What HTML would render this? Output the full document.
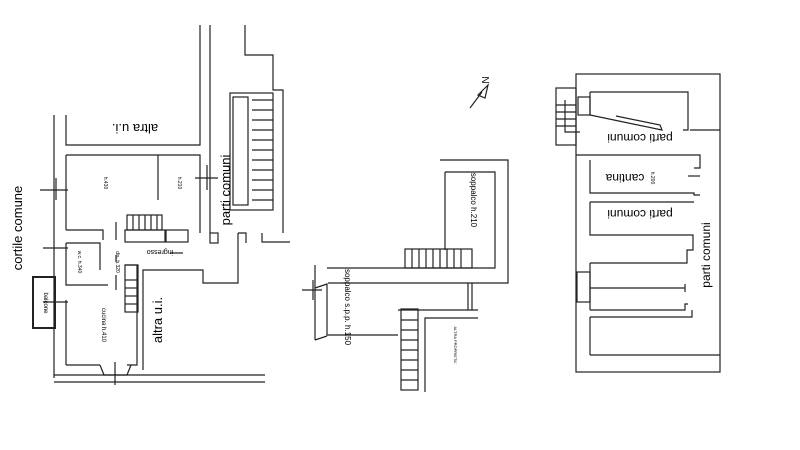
<!DOCTYPE html>
<html><head><style>
html,body{margin:0;padding:0;background:#fff;width:800px;height:450px;overflow:hidden}
svg{display:block}
text{font-family:"Liberation Sans",sans-serif;fill:#000}
</style></head><body>
<svg width="800" height="450" viewBox="0 0 800 450" xmlns="http://www.w3.org/2000/svg">
<g stroke="#222" stroke-width="1.2" fill="none">
<!-- LEFT PLAN -->
<polyline points="200,25 200,145 66,145 66,115"/>
<line x1="210" y1="25" x2="210" y2="233"/>
<line x1="54" y1="115" x2="54" y2="378"/>
<polyline points="66,155 200,155 200,233"/>
<line x1="66" y1="155" x2="66" y2="230"/>
<polyline points="66,230 103,230 103,240"/>
<line x1="158" y1="155" x2="158" y2="200"/>
<rect x="127" y="215" width="35" height="15"/>
<line x1="133" y1="215" x2="133" y2="230"/><line x1="139" y1="215" x2="139" y2="230"/><line x1="145" y1="215" x2="145" y2="230"/><line x1="151" y1="215" x2="151" y2="230"/><line x1="157" y1="215" x2="157" y2="230"/>
<rect x="125" y="230" width="40" height="12"/>
<rect x="166" y="230" width="22" height="12"/>
<rect x="210" y="233" width="8" height="10"/>
<line x1="116" y1="222" x2="116" y2="240"/>
<line x1="116" y1="255" x2="116" y2="262"/>
<polyline points="66,243 100,243 100,270"/>
<polyline points="66,243 66,285 108,285"/>
<line x1="116" y1="275" x2="116" y2="290"/>
<rect x="33" y="277" width="22" height="51" stroke-width="2"/>
<line x1="66" y1="300" x2="66" y2="365"/>
<polyline points="66,365 100,365"/><polyline points="127,365 137,365 137,265 125,265"/>
<polyline points="100,365 104,375 127,375 131,365"/>
<line x1="54" y1="375" x2="265" y2="375"/>
<line x1="54" y1="382" x2="265" y2="382"/>
<polyline points="143,370 143,270 203,270 203,283 238,283 238,233"/>
<polyline points="238,233 246,233 246,243"/>
<rect x="125" y="265" width="13" height="47"/>
<line x1="125" y1="280" x2="138" y2="280"/><line x1="125" y1="288" x2="138" y2="288"/><line x1="125" y1="296" x2="138" y2="296"/><line x1="125" y1="304" x2="138" y2="304"/>
<polyline points="245,25 245,55 273,55 273,90 283,90 283,233"/>
<rect x="230" y="93" width="43" height="117"/>
<rect x="233" y="97" width="15" height="108"/>
<line x1="252" y1="100" x2="273" y2="100"/><line x1="252" y1="110" x2="273" y2="110"/><line x1="252" y1="120" x2="273" y2="120"/><line x1="252" y1="130" x2="273" y2="130"/><line x1="252" y1="140" x2="273" y2="140"/><line x1="252" y1="150" x2="273" y2="150"/><line x1="252" y1="160" x2="273" y2="160"/><line x1="252" y1="170" x2="273" y2="170"/><line x1="252" y1="180" x2="273" y2="180"/><line x1="252" y1="190" x2="273" y2="190"/><line x1="252" y1="200" x2="273" y2="200"/>
<polyline points="262,233 262,242 290,242"/>
<line x1="40" y1="190" x2="68" y2="190"/><line x1="56" y1="178" x2="56" y2="200"/>
<line x1="195" y1="178" x2="218" y2="178"/><line x1="207" y1="165" x2="207" y2="190"/>
<line x1="43" y1="248" x2="68" y2="248"/>
<line x1="43" y1="302" x2="68" y2="302"/>
<line x1="115" y1="362" x2="115" y2="385"/>
<line x1="170" y1="253" x2="183" y2="253"/>
<!-- MIDDLE PLAN -->
<polyline points="440,160 508,160 508,283 328,283"/>
<polyline points="445,172 495,172 495,268 327,268"/>
<line x1="445" y1="172" x2="445" y2="250"/>
<rect x="405" y="249" width="67" height="19"/>
<line x1="412" y1="249" x2="412" y2="268"/><line x1="419" y1="249" x2="419" y2="268"/><line x1="426" y1="249" x2="426" y2="268"/><line x1="433" y1="249" x2="433" y2="268"/><line x1="440" y1="249" x2="440" y2="268"/><line x1="447" y1="249" x2="447" y2="268"/><line x1="454" y1="249" x2="454" y2="268"/><line x1="461" y1="249" x2="461" y2="268"/>
<line x1="315" y1="265" x2="315" y2="340"/>
<polyline points="315,288 327,284 327,335 398,335"/>
<line x1="315" y1="340" x2="327" y2="336"/>
<line x1="468" y1="283" x2="468" y2="310"/><line x1="472" y1="283" x2="472" y2="310"/>
<line x1="398" y1="310" x2="478" y2="310"/>
<rect x="401" y="309" width="17" height="81"/>
<line x1="401" y1="320" x2="418" y2="320"/><line x1="401" y1="330" x2="418" y2="330"/><line x1="401" y1="340" x2="418" y2="340"/><line x1="401" y1="350" x2="418" y2="350"/><line x1="401" y1="360" x2="418" y2="360"/><line x1="401" y1="370" x2="418" y2="370"/><line x1="401" y1="380" x2="418" y2="380"/>
<polyline points="425,392 425,318 478,318"/>
<line x1="302" y1="290" x2="322" y2="290"/><line x1="313" y1="280" x2="313" y2="300"/>
<line x1="470" y1="108" x2="482" y2="92"/>
<polygon points="478,95 488,85 485,98"/>
<!-- RIGHT PLAN -->
<rect x="576" y="74" width="144" height="298"/>
<rect x="556" y="88" width="20" height="57"/>
<line x1="556" y1="105" x2="576" y2="105"/><line x1="556" y1="112" x2="576" y2="112"/><line x1="556" y1="119" x2="576" y2="119"/><line x1="556" y1="126" x2="576" y2="126"/>
<polyline points="565,100 565,132 580,132"/>
<polyline points="590,92 688,92 688,130 683,130"/>
<polyline points="590,92 590,115 614,120 662,130 660,125 616,116"/>
<rect x="578" y="97" width="12" height="18"/>
<line x1="690" y1="130" x2="720" y2="130"/>
<polyline points="576,155 700,155 700,168 694,168"/>
<polyline points="590,160 590,193 694,193 694,195 700,195"/>
<polyline points="590,202 694,202"/>
<polyline points="590,202 590,235 693,235 693,250 687,250 687,263 590,263"/>
<line x1="590" y1="263" x2="590" y2="310"/>
<rect x="577" y="272" width="13" height="30"/>
<polyline points="590,288 685,288"/><line x1="685" y1="284" x2="685" y2="292"/>
<polyline points="590,310 685,310 685,304 688,304"/>
<polyline points="590,317 692,317 692,310"/>
<line x1="590" y1="317" x2="590" y2="355"/>
<line x1="590" y1="355" x2="720" y2="355"/>
<line x1="688" y1="176" x2="700" y2="176"/>
</g>
<g fill="#000">
<text x="22" y="228" font-size="13" transform="rotate(-90 22 228)" text-anchor="middle">cortile comune</text>
<text x="135" y="132" font-size="13" transform="rotate(180 135 128)" text-anchor="middle">altra u.i.</text>
<text x="230" y="190" font-size="13" transform="rotate(-90 230 190)" text-anchor="middle">parti comuni</text>
<text x="162" y="320" font-size="13" transform="rotate(-90 162 320)" text-anchor="middle">altra u.i.</text>
<text x="44" y="303" font-size="6" transform="rotate(90 44 303)" text-anchor="middle">balcone</text>
<text x="104" y="183" font-size="5" transform="rotate(90 104 183)" text-anchor="middle">h.430</text>
<text x="178" y="183" font-size="5" transform="rotate(90 178 183)" text-anchor="middle">h.210</text>
<text x="78" y="262" font-size="5" transform="rotate(90 78 262)" text-anchor="middle">w.c. h.340</text>
<text x="116" y="262" font-size="5" transform="rotate(90 116 262)" text-anchor="middle">dis. h.320</text>
<text x="102" y="325" font-size="6" transform="rotate(90 102 325)" text-anchor="middle">cucina h.410</text>
<text x="160" y="256" font-size="7" transform="rotate(180 160 253)" text-anchor="middle">ingresso</text>
<text x="471" y="200" font-size="8" transform="rotate(90 471 200)" text-anchor="middle">soppalco h.210</text>
<text x="345" y="307" font-size="8" transform="rotate(90 345 307)" text-anchor="middle">soppalco s.p.p. h.150</text>
<text x="454" y="345" font-size="4" transform="rotate(90 454 345)" text-anchor="middle">ALTRA PROPRIETA'</text>
<text x="482" y="80" font-size="10" transform="rotate(90 482 80)" text-anchor="middle">N</text>
<text x="640" y="142" font-size="12" transform="rotate(180 640 138)" text-anchor="middle">parti comuni</text>
<text x="625" y="182" font-size="12" transform="rotate(180 625 178)" text-anchor="middle">cantina</text>
<text x="651" y="178" font-size="5" transform="rotate(90 651 178)" text-anchor="middle">h.200</text>
<text x="640" y="218" font-size="12" transform="rotate(180 640 214)" text-anchor="middle">parti comuni</text>
<text x="710" y="255" font-size="12" transform="rotate(-90 710 255)" text-anchor="middle">parti comuni</text>
</g>
</svg>
</body></html>
